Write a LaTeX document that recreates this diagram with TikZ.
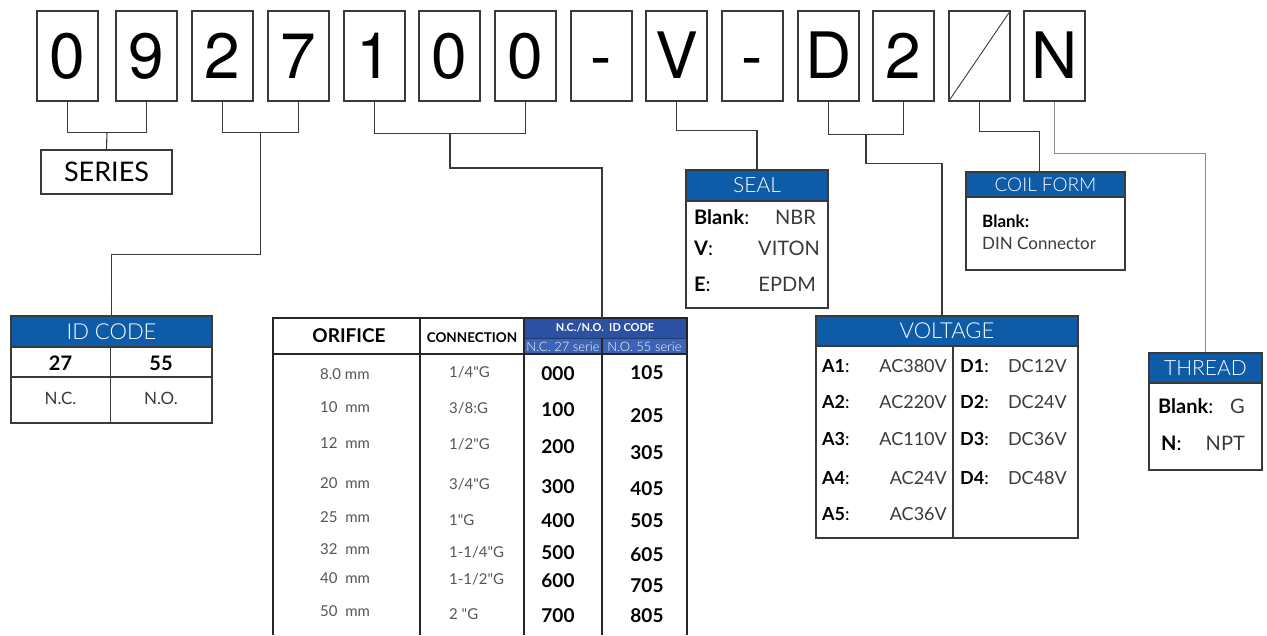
\documentclass[tikz,border=0pt]{standalone}
\usepackage{fontspec}
\setmainfont{Lato}[Ligatures=TeXOff]
\newfontfamily\heros{TeX Gyre Heros}
\newfontfamily\lightfont{Lato Light}[Ligatures=TeXOff]
\usetikzlibrary{calc}
\definecolor{hblue}{HTML}{0E5BA8}
\definecolor{tblA}{HTML}{2C51A2}
\definecolor{tblB}{HTML}{3D63B6}
\definecolor{lineg}{HTML}{3A3A3A}
\definecolor{txtg}{HTML}{3A3A3A}
\definecolor{rowg}{HTML}{555555}
\definecolor{lightg}{HTML}{8C8C8C}
\newcommand\fsz[1]{\fontsize{#1}{#1}\selectfont}
\begin{document}
\begin{tikzpicture}[x=1pt,y=-1pt,
  charbox/.style={draw=lineg, line width=1.1pt, minimum width=61pt, minimum height=90pt,
    inner sep=0pt, font=\heros\fsz{64}, text height=45pt, text depth=0pt},
  conn/.style={draw=lineg, line width=1.1pt},
  panel/.style={draw=lineg, line width=1.3pt, inner sep=0pt},
  hdr/.style={fill=hblue, draw=lineg, line width=1.3pt, text=white, inner sep=0pt, font=\lightfont\fsz{21}},
  lab/.style={inner sep=0pt, anchor=base west, text=black},
  val/.style={inner sep=0pt, anchor=base east, text=txtg},
  tline/.style={draw=black!85, line width=1.4pt},
  rowtxt/.style={inner sep=0pt, anchor=base west, text=rowg, font=\fsz{15}},
  codetxt/.style={inner sep=0pt, anchor=base, text=black, font=\bfseries\fsz{19}}
]
\useasboundingbox (0,0) rectangle (1267,635);

% ---- code characters
\node[charbox] (c0)  at (67.5,56)  {0};
\node[charbox] (c9)  at (146.5,56) {9};
\node[charbox] (c2)  at (222.5,56) {2};
\node[charbox] (c7)  at (298.5,56) {7};
\node[charbox] (c1)  at (374.5,56) {1};
\node[charbox] (c0b) at (449.5,56) {0};
\node[charbox] (c0c) at (525.5,56) {0};
\node[charbox] (ch1) at (601.5,56) {-};
\node[charbox] (cV)  at (676.5,56) {V};
\node[charbox] (ch2) at (752.5,56) {-};
\node[charbox] (cD)  at (828.5,56) {D};
\node[charbox] (c2b) at (903.5,56) {2};
\node[charbox] (cS)  at (979.5,56) {};
\node[charbox] (cN)  at (1054.5,56) {N};
\draw[line width=0.9pt, draw=lineg] (cS.south west) -- (cS.north east);

% ---- SERIES
\node[panel, line width=1.1pt, minimum width=131pt, minimum height=44pt, font=\fsz{27}] (series) at (106.5,172) {SERIES};

% ---- ID CODE panel
\node[panel, minimum width=201pt, minimum height=107pt] (idcode) at (111.5,369.5) {};
\node[hdr, minimum width=201pt, minimum height=31pt, font=\lightfont\fsz{22}] (idh) at (111.5,331.5) {ID CODE};
\draw[draw=lineg, line width=1.2pt] (idcode.west |- 0,377) -- (idcode.east |- 0,377);
\draw[draw=lineg, line width=1.2pt] (110.5,347) -- (idcode.south -| 110.5,0);
\node[inner sep=0pt, anchor=base, font=\bfseries\fsz{20}] (id27) at (60.5,370) {27};
\node[inner sep=0pt, anchor=base, font=\bfseries\fsz{20}] (id55) at (161,370) {55};
\node[inner sep=0pt, anchor=base, font=\fsz{17}, text=txtg] (idnc) at (60.5,404) {N.C.};
\node[inner sep=0pt, anchor=base, font=\fsz{17}, text=txtg] (idno) at (161,404) {N.O.};

% ---- ORIFICE table
\fill[tblA] (524,318) rectangle (687,338);
\fill[tblB] (524,338) rectangle (687,354);
\draw[draw=tblA!70!black, line width=0.8pt] (524,338) -- (687,338);
\draw[tline] (273,635) -- (273,318) -- (687,318) -- (687,635);
\draw[tline] (273,354) -- (687,354);
\draw[tline] (420,318) -- (420,635);
\draw[tline] (524,318) -- (524,635);
\draw[tline] (602,338) -- (602,635);
\coordinate (tbltop) at (602,318);
\node[inner sep=0pt, anchor=base, font=\bfseries\fsz{19}] (thor) at (349,342) {ORIFICE};
\node[inner sep=0pt, anchor=base, font=\bfseries\fsz{13.5}] (thcon) at (472,342) {CONNECTION};
\node[inner sep=0pt, anchor=base, font=\bfseries\fsz{11}, text=white] (thid) at (605,331) {N.C./N.O.\ \ ID CODE};
\node[inner sep=0pt, anchor=base, font=\lightfont\fsz{13}, text=white] (thnc) at (563,351) {N.C. 27 serie};
\node[inner sep=0pt, anchor=base, font=\lightfont\fsz{13}, text=white] (thno) at (644.5,351) {N.O. 55 serie};
\foreach \yy/\tx [count=\i] in {379/{8.0 mm}, 412/{10~~mm}, 448/{12~~mm}, 488/{20~~mm}, 522/{25~~mm}, 554/{32~~mm}, 583/{40~~mm}, 616/{50~~mm}}
  \node[rowtxt] (or\i) at (320,\yy) {\tx};
\foreach \yy/\tx [count=\i] in {377/{1/4"G}, 413/{3/8:G}, 449/{1/2"G}, 489/{3/4"G}, 525/{1"G}, 557/{1-1/4"G}, 584/{1-1/2"G}, 619/{2 "G}}
  \node[rowtxt] (cn\i) at (449,\yy) {\tx};
\foreach \yy/\tx [count=\i] in {380/000, 416/100, 453/200, 493/300, 527/400, 559/500, 587/600, 622/700}
  \node[codetxt] (nc\i) at (558,\yy) {\tx};
\foreach \yy/\tx [count=\i] in {379/105, 422/205, 459/305, 495/405, 527/505, 561/605, 592/705, 622/805}
  \node[codetxt] (no\i) at (647,\yy) {\tx};

% ---- SEAL panel
\node[panel, minimum width=142pt, minimum height=138pt] (seal) at (757,239) {};
\node[hdr, minimum width=142pt, minimum height=31pt] (sealh) at (757,185.5) {SEAL};
\node[lab, font=\fsz{20}] (s1) at (694,224) {\textbf{Blank}:};
\node[val, font=\fsz{20}] (s1v) at (816,224) {NBR};
\node[lab, font=\fsz{20}] (s2) at (694,255) {\textbf{V}:};
\node[val, font=\fsz{20}] (s2v) at (820,255) {VITON};
\node[lab, font=\fsz{20}] (s3) at (694,291) {\textbf{E}:};
\node[val, font=\fsz{20}] (s3v) at (816,291) {EPDM};

% ---- COIL FORM panel
\node[panel, minimum width=159pt, minimum height=98pt] (coil) at (1045.5,221) {};
\node[hdr, minimum width=159pt, minimum height=25pt, font=\lightfont\fsz{19}] (coilh) at (1045.5,184.5) {COIL FORM};
\node[lab, font=\bfseries\fsz{17}] (cf1) at (982,227) {Blank:};
\node[lab, font=\fsz{17}, text=txtg] (cf2) at (982,249) {DIN Connector};

% ---- VOLTAGE panel
\node[panel, minimum width=262pt, minimum height=222pt] (volt) at (947,427) {};
\node[hdr, minimum width=262pt, minimum height=30pt, font=\lightfont\fsz{22}] (volth) at (947,331) {VOLTAGE};
\draw[draw=lineg, line width=1.3pt] (953,346) -- (volt.south -| 953,0);
\foreach \yy/\la/\va [count=\i] in {372/A1/AC380V, 408/A2/AC220V, 445/A3/AC110V, 484/A4/AC24V, 520/A5/AC36V} {
  \node[lab, font=\fsz{18}] (va\i) at (822,\yy) {\textbf{\la}:};
  \node[val, font=\fsz{18}] (vav\i) at (947,\yy) {\va};
}
\foreach \yy/\la/\va [count=\i] in {372/D1/DC12V, 408/D2/DC24V, 445/D3/DC36V, 484/D4/DC48V} {
  \node[lab, font=\fsz{18}] (vd\i) at (960,\yy) {\textbf{\la}:};
  \node[val, font=\fsz{18}] (vdv\i) at (1067,\yy) {\va};
}

% ---- THREAD panel
\node[panel, minimum width=113pt, minimum height=117pt] (thread) at (1205.5,411.5) {};
\node[hdr, minimum width=113pt, minimum height=30pt] (threadh) at (1205.5,368) {THREAD};
\node[lab, font=\fsz{20}] (t1) at (1158,413) {\textbf{Blank}:};
\node[val, font=\fsz{20}] (t1v) at (1245,413) {G};
\node[lab, font=\fsz{20}] (t2) at (1161,450) {\textbf{N}:};
\node[val, font=\fsz{20}] (t2v) at (1245,450) {NPT};

% ---- connectors
\coordinate (j09) at ($(c0.south)!0.5!(c9.south)+(0,31)$);
\draw[conn] (c0.south) |- ($(c9.south)+(0,31)$) -- (c9.south);
\draw[conn] (j09) -- (series.north);

\coordinate (j27) at ($(c2.south)!0.5!(c7.south)+(0,31)$);
\draw[conn] (c2.south) |- ($(c7.south)+(0,31)$) -- (c7.south);
\draw[conn] (j27) |- ($(idh.north)+(0,-61)$) -- (idh.north);

\coordinate (j100) at ($(c1.south)!0.5!(c0c.south)+(0,32)$);
\draw[conn] (c1.south) |- ($(c0c.south)+(0,32)$) -- (c0c.south);
\draw[conn] (j100) |- ($(tbltop)+(0,-150)$) -- (tbltop);

\draw[conn] (cV.south) |- ($(sealh.north)+(0,-39)$) -- (sealh.north);

\coordinate (jD2) at ($(cD.south)!0.5!(c2b.south)+(0,33)$);
\draw[conn] (cD.south) |- ($(c2b.south)+(0,33)$) -- (c2b.south);
\draw[conn] (jD2) |- ($(volth.north)+(-5,-152)$) -- ($(volth.north)+(-5,0)$);

\draw[conn] (cS.south) |- ($(coilh.north)+(-6,-40)$) -- ($(coilh.north)+(-6,0)$);

\draw[conn, draw=lightg] (cN.south) |- ($(threadh.north)+(0,-199)$) -- (threadh.north);
\end{tikzpicture}
\end{document}
